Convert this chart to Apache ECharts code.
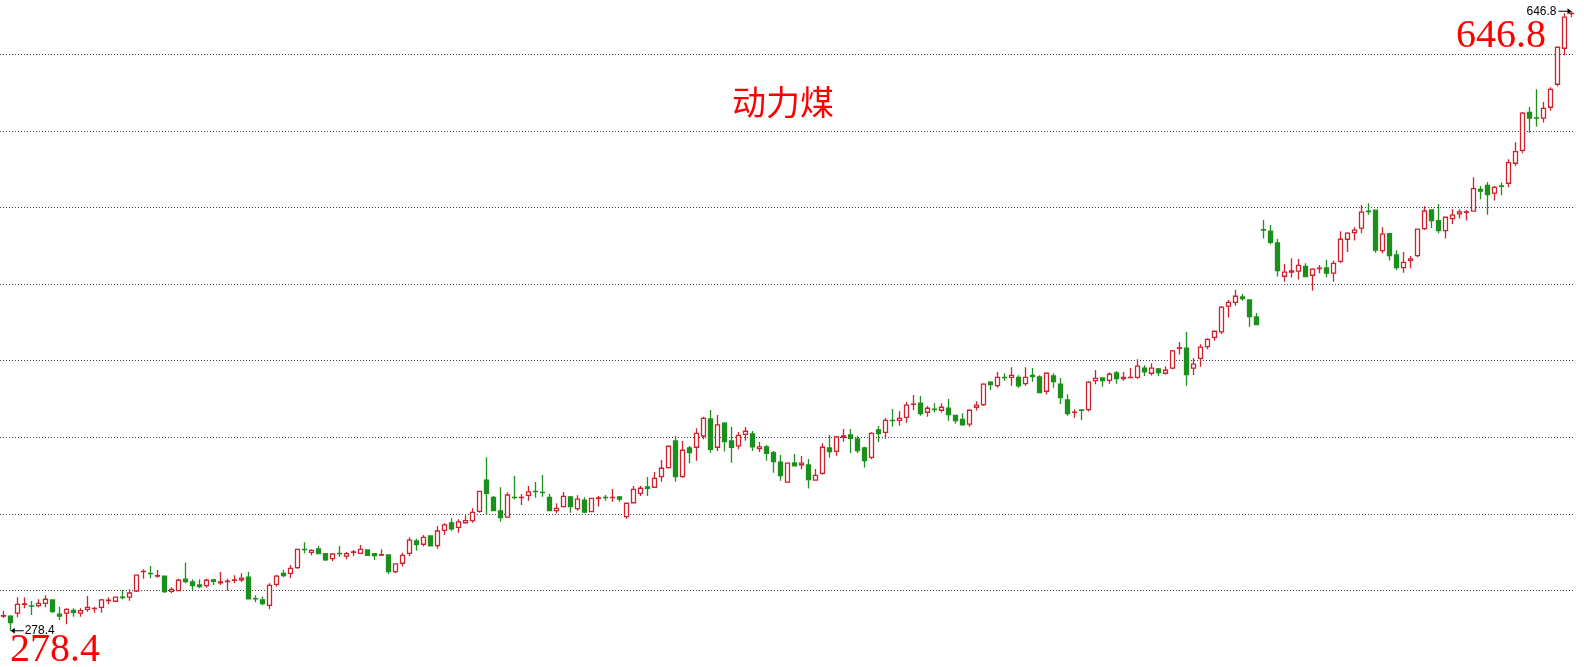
<!DOCTYPE html>
<html><head><meta charset="utf-8">
<script src="https://cdn.jsdelivr.net/npm/echarts@6/dist/echarts.min.js"></script>
<style>html,body{margin:0;padding:0;background:#fff}#c{width:1584px;height:667px}</style>
</head><body><div id="c"></div>
<script>
const opens = [287.0,287.1,288.8,294.0,293.1,293.3,294.7,296.7,288.3,288.8,290.5,288.8,291.1,291.5,292.3,296.3,295.9,298.3,298.3,302.0,
313.5,312.5,310.9,310.9,301.8,302.2,309.0,307.4,305.6,305.2,308.6,306.8,307.6,308.4,308.7,310.3,297.5,296.7,293.5,306.0,
312.5,312.5,315.9,326.8,325.0,327.0,324.2,321.2,324.4,322.8,325.0,324.4,326.4,324.2,323.4,323.4,313.5,318.5,324.4,331.8,
329.8,334.7,329.0,338.1,342.5,339.9,342.6,343.8,349.4,368.0,357.7,349.6,345.9,357.7,357.6,358.9,361.3,360.7,357.7,349.8,
352.2,357.9,351.0,356.1,349.2,357.1,357.7,357.6,357.9,346.2,354.5,360.1,363.9,363.7,370.0,375.4,391.2,370.0,387.1,387.5,
394.2,404.3,387.5,401.8,391.2,388.3,395.2,395.4,386.7,387.7,384.3,378.7,366.7,378.2,377.1,377.0,367.9,372.0,387.1,385.1,
393.4,394.8,392.4,387.1,381.5,397.8,396.4,403.5,403.5,405.3,413.0,413.7,408.3,410.1,409.5,410.7,406.5,404.1,401.2,411.3,
412.8,426.2,424.1,429.1,429.1,429.1,425.3,430.3,429.3,420.8,429.9,425.0,415.6,408.2,409.7,409.9,427.1,428.7,427.3,431.7,
428.3,428.9,429.1,434.6,431.5,434.1,431.5,434.5,446.3,446.4,434.5,440.4,447.3,452.9,456.1,471.4,473.7,476.9,475.1,465.0,
516.9,516.0,509.0,489.2,491.6,492.2,495.1,489.8,493.8,494.1,491.0,498.1,511.2,515.1,517.8,527.9,528.5,504.4,514.5,501.9,
494.3,498.7,501.5,517.5,528.6,522.3,516.3,523.5,526.3,527.2,527.9,540.9,543.3,538.6,542.9,544.5,556.4,564.1,586.7,583.4,
583.2,589.7,603.4,624.8,645.4];
const closes = [287.3,283.2,294.1,294.3,293.0,294.7,297.1,289.7,287.1,291.1,289.3,290.3,292.3,291.7,296.7,296.5,298.3,298.1,300.8,311.4,
313.7,312.4,311.1,301.6,303.0,308.4,307.6,305.2,304.6,308.4,307.8,307.4,307.8,308.6,309.7,297.4,297.4,294.5,305.4,310.9,
311.1,315.5,326.8,326.6,326.2,324.2,320.5,324.0,324.3,324.2,325.2,326.8,323.2,323.0,323.6,313.5,318.1,323.2,332.3,329.6,
333.9,328.8,337.7,341.3,338.9,343.1,343.8,348.8,361.3,360.1,349.8,345.6,359.1,357.6,357.7,360.9,361.1,360.5,349.8,351.2,
358.3,352.2,356.7,349.0,357.1,357.3,357.6,357.7,356.7,354.2,362.5,363.1,363.0,369.0,375.0,388.1,370.0,385.7,384.3,395.8,
404.7,386.3,400.8,390.8,387.5,394.6,397.0,387.8,387.7,383.9,378.9,370.6,378.0,376.5,378.0,368.2,370.8,387.5,384.9,393.6,
394.2,392.8,385.5,379.5,395.8,395.6,403.5,403.4,404.7,412.5,413.2,407.5,410.7,409.9,411.3,406.9,403.3,400.8,409.5,412.5,
425.0,424.7,429.1,428.9,430.3,424.0,429.1,429.5,420.0,431.5,426.5,417.0,407.5,408.3,409.5,426.2,428.5,427.1,430.9,428.3,
429.1,429.1,435.7,432.4,434.5,431.9,433.3,444.8,446.6,430.7,436.9,447.0,451.7,456.5,470.8,473.7,477.3,475.9,465.2,460.4,
516.7,509.4,492.5,491.6,492.4,495.7,489.0,493.4,494.0,491.0,496.9,511.2,514.8,516.6,527.3,527.7,504.8,514.2,501.5,494.3,
497.5,499.5,517.2,528.0,522.3,516.3,524.3,525.5,527.4,527.4,541.3,539.8,537.7,542.1,542.7,556.8,563.3,586.2,583.2,583.2,
589.1,600.4,625.4,643.3,645.6];
const highs = [290.3,287.6,298.3,298.3,296.1,297.1,299.5,297.1,292.7,291.7,291.7,291.7,299.0,292.7,297.3,298.3,298.6,302.6,303.0,311.7,
314.9,316.9,314.5,311.2,304.2,309.3,318.9,309.0,309.0,309.3,309.3,313.3,309.3,311.4,312.5,313.5,299.5,298.6,306.6,311.5,
314.5,317.5,327.0,331.0,326.8,328.8,324.6,324.4,328.8,325.2,326.4,329.4,326.8,324.4,326.8,323.7,318.5,324.8,333.9,333.1,
335.3,335.0,340.7,342.3,345.3,344.7,347.0,351.2,361.5,381.5,358.5,363.7,360.7,370.4,359.7,364.5,366.9,371.0,359.7,354.2,
360.9,358.5,358.9,357.7,357.3,358.5,359.1,362.7,358.5,354.4,364.5,364.5,369.8,372.8,379.9,388.3,394.2,391.2,388.3,398.8,
405.7,409.7,406.7,402.5,399.6,396.6,399.6,397.2,390.6,388.9,385.3,382.9,378.2,383.5,382.3,380.5,374.6,389.9,394.8,394.2,
398.4,398.4,394.2,387.8,396.4,400.2,404.9,410.3,408.9,414.4,418.6,418.0,412.1,413.7,413.7,416.2,406.7,407.7,410.1,414.9,
425.6,426.9,432.3,431.5,435.1,430.3,435.1,434.7,430.3,431.7,431.5,428.7,419.0,410.1,410.1,426.9,433.5,429.1,432.1,432.9,
432.3,434.7,439.8,436.3,437.5,434.7,435.7,445.4,450.1,456.1,440.4,448.8,452.3,456.7,471.5,475.1,481.1,478.7,475.3,467.4,
522.7,519.7,511.4,496.5,499.9,499.5,496.9,494.0,495.9,498.9,498.5,516.0,515.4,518.3,531.6,532.6,528.6,518.3,515.0,504.7,
503.6,501.3,517.3,530.8,528.8,532.2,524.5,529.0,529.0,528.6,548.1,542.9,545.3,542.9,544.9,558.8,568.9,586.9,589.9,600.4,
592.9,601.6,625.6,645.6,646.8];
const lows = [286.0,278.4,286.4,291.7,287.7,292.3,292.3,289.1,284.8,282.2,286.7,286.7,289.7,289.1,289.1,294.1,295.6,297.1,296.2,301.4,
309.3,309.6,309.9,300.8,300.6,301.9,306.6,302.8,303.6,304.0,305.6,305.6,302.2,306.6,307.4,297.3,295.3,293.5,291.1,304.6,
310.2,309.6,315.1,324.4,323.2,323.8,319.9,319.7,322.4,320.9,322.8,324.3,322.8,320.5,322.8,312.1,312.5,316.5,322.8,326.0,
328.4,328.4,327.2,335.3,337.9,336.7,342.3,342.6,348.6,347.4,349.6,343.2,345.7,356.6,353.2,355.7,357.5,358.1,349.6,348.2,
351.6,348.6,349.8,348.2,349.0,352.2,355.7,355.1,355.1,345.0,354.0,358.5,358.5,363.6,367.0,374.8,367.0,369.4,378.0,379.5,
392.2,384.3,385.3,384.9,378.3,386.3,391.4,385.3,384.7,379.5,372.4,367.6,366.6,376.0,374.4,362.9,367.8,371.2,381.3,382.5,
390.8,384.0,383.9,375.4,380.3,390.6,392.6,399.7,400.3,402.1,409.7,406.3,405.7,408.1,408.1,403.3,401.5,400.3,399.7,409.3,
412.1,421.6,422.9,427.1,424.0,422.9,424.0,426.5,419.8,418.8,422.9,413.2,406.3,405.1,403.7,408.7,425.0,423.5,425.3,425.3,
427.1,428.5,428.3,429.9,430.1,429.9,430.7,433.9,442.6,424.0,430.5,435.4,445.8,450.9,454.9,464.6,471.7,474.7,459.2,460.2,
511.6,508.2,489.0,486.0,488.4,487.2,488.6,480.6,491.0,488.6,486.0,496.9,503.6,510.4,514.8,525.8,503.2,502.9,498.5,492.9,
491.3,494.0,500.5,516.7,517.9,514.8,511.6,520.3,523.5,522.3,527.7,535.0,525.8,534.2,537.4,542.1,554.8,562.4,574.6,578.2,
580.6,587.7,602.0,620.7,643.3];
const categories = opens.map((_, i) => String(i + 1));
const titleText = '动力煤';

const candles = opens.map((o, i) => [o, closes[i], lows[i], highs[i]]);
const maxVal = Math.max(...highs), maxIdx = highs.indexOf(maxVal);
const minVal = Math.min(...lows), minIdx = lows.indexOf(minVal);

const RED = '#d0212f', GREEN = '#1c901c';
const chart = echarts.init(document.getElementById('c'), null, {renderer: 'canvas'});
chart.setOption({
  animation: false,
  backgroundColor: '#fff',
  grid: {left: 0, right: 9, top: 0, bottom: 0},
  xAxis: {type: 'category', data: categories, boundaryGap: true,
    axisLine: {show: false}, axisTick: {show: false}, axisLabel: {show: false}, splitLine: {show: false}},
  yAxis: [
    {type: 'value', min: 256.8, max: 653.5, axisLine: {show: false}, axisTick: {show: false},
     axisLabel: {show: false}, splitLine: {show: false}},
    {type: 'value', min: 0, max: 8.708, interval: 1, position: 'right', axisLine: {show: false},
     axisTick: {show: false}, axisLabel: {show: false},
     splitLine: {show: true, showMinLine: false, showMaxLine: false,
       lineStyle: {color: '#3a3a3a', width: 1, type: [1, 2]}}}
  ],
  series: [
    {type: 'line', yAxisIndex: 1, data: [], silent: true},
    {type: 'candlestick', data: candles, barWidth: 5,
     itemStyle: {color: '#ffffff', color0: GREEN, borderColor: RED, borderColor0: GREEN, borderWidth: 1.3},
     markPoint: {
       silent: true,
       itemStyle: {color: '#000'},
       label: {color: '#000', fontSize: 12, fontFamily: 'Liberation Sans'},
       data: [
         {coord: [maxIdx, maxVal], value: maxVal,
          symbol: 'path://M0,2.5 L9,2.5 L9,0 L13,3 L9,6 L9,3.5 L0,3.5 Z', symbolSize: [13, 6], symbolOffset: [-6.5, 0],
          label: {position: 'left', distance: 2, formatter: maxVal.toFixed(1)}},
         {coord: [minIdx, minVal], value: minVal,
          symbol: 'path://M13,2.5 L4,2.5 L4,0 L0,3 L4,6 L4,3.5 L13,3.5 Z', symbolSize: [13, 6], symbolOffset: [6.7, 0],
          label: {position: 'right', distance: 1, formatter: minVal.toFixed(1)}}
       ]
     }}
  ],
  graphic: [
    {type: 'text', style: {text: titleText, x: 783, y: 102, textAlign: 'center', textVerticalAlign: 'middle',
      fill: '#ff0000', font: '34px "Noto Sans CJK SC"'}},
    {type: 'text', style: {text: maxVal.toFixed(1), x: 1546, y: 36, textAlign: 'right', textVerticalAlign: 'middle',
      fill: '#ff0000', font: '40px "Liberation Serif"'}},
    {type: 'text', style: {text: minVal.toFixed(1), x: 10, y: 650, textAlign: 'left', textVerticalAlign: 'middle',
      fill: '#ff0000', font: '40px "Liberation Serif"'}}
  ]
});
</script></body></html>
